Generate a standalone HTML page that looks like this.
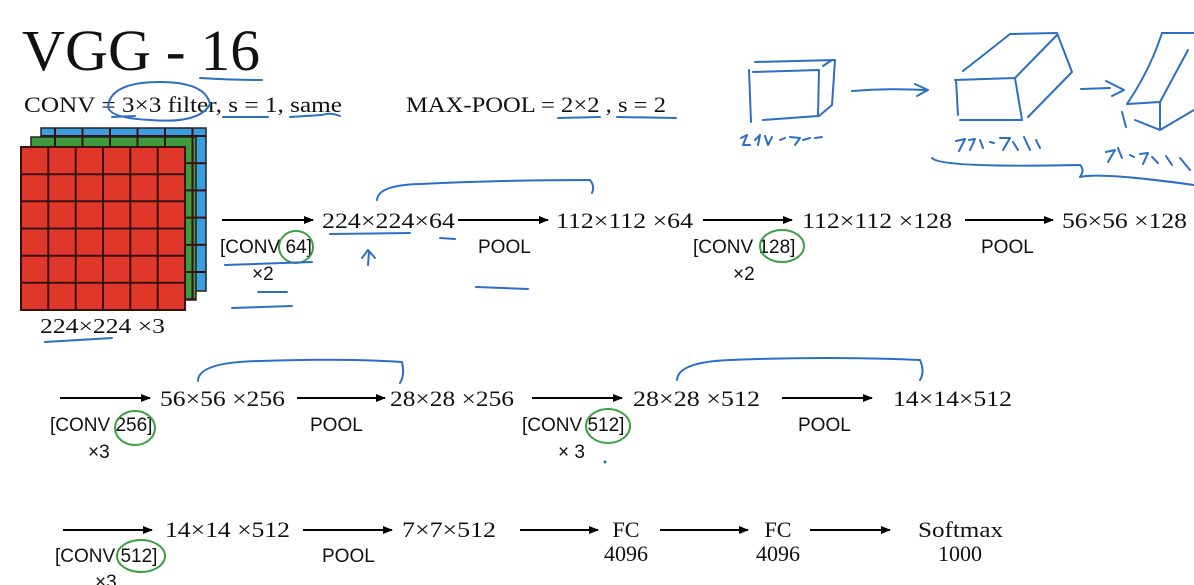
<!DOCTYPE html>
<html><head><meta charset="utf-8"><style>
html,body{margin:0;padding:0;background:#fff;}
svg{display:block}
.s{font-family:"Liberation Serif",serif;fill:#111}
.a{font-family:"Liberation Sans",sans-serif;fill:#111;font-size:19px}
.b{fill:none;stroke:#2a6fc4;stroke-width:2;stroke-linecap:round;stroke-linejoin:round}
.g{fill:none;stroke:#3aa040;stroke-width:2}
</style></head><body>
<svg width="1194" height="585" viewBox="0 0 1194 585">
<defs><marker id="ar" markerWidth="10" markerHeight="8" refX="9" refY="4" orient="auto" markerUnits="userSpaceOnUse"><path d="M0,0 L10,4 L0,8z" fill="#000"/></marker>
<pattern id="gr" width="27.5" height="27.2" patternUnits="userSpaceOnUse"><rect width="27.5" height="27.2" fill="none" stroke="#3a1010" stroke-width="2"/></pattern></defs>
<text class="s" x="22" y="70" font-size="58" textLength="238" lengthAdjust="spacingAndGlyphs">VGG - 16</text>
<text class="s" x="24" y="112" font-size="22" textLength="318" lengthAdjust="spacingAndGlyphs">CONV = 3×3 filter, s = 1, same</text>
<text class="s" x="406" y="112" font-size="22" textLength="260" lengthAdjust="spacingAndGlyphs">MAX-POOL = 2×2 , s = 2</text>
<rect x="41" y="128" width="165" height="163" fill="#3a9ee0" stroke="#222" stroke-width="1.5"/>
<rect x="41" y="128" width="165" height="163" fill="url(#gr)"/>
<rect x="31" y="137" width="165" height="163" fill="#3f9a3c" stroke="#222" stroke-width="1.5"/>
<rect x="31" y="137" width="165" height="163" fill="url(#gr)"/>
<rect x="21" y="147" width="164" height="163" fill="#e0372b" stroke="#3a1010" stroke-width="2"/>
<g stroke="#3a1010" stroke-width="2">
<line x1="48.3" y1="147" x2="48.3" y2="310"/><line x1="75.7" y1="147" x2="75.7" y2="310"/><line x1="103" y1="147" x2="103" y2="310"/><line x1="130.3" y1="147" x2="130.3" y2="310"/><line x1="157.7" y1="147" x2="157.7" y2="310"/>
<line x1="21" y1="174.2" x2="185" y2="174.2"/><line x1="21" y1="201.3" x2="185" y2="201.3"/><line x1="21" y1="228.5" x2="185" y2="228.5"/><line x1="21" y1="255.7" x2="185" y2="255.7"/><line x1="21" y1="282.8" x2="185" y2="282.8"/>
</g>
<text class="s" x="40" y="333" font-size="21" textLength="125" lengthAdjust="spacingAndGlyphs">224×224 ×3</text>
<g stroke="#000" stroke-width="2" marker-end="url(#ar)">
<line x1="222" y1="220" x2="313" y2="220"/><line x1="458" y1="220" x2="548" y2="220"/><line x1="703" y1="220" x2="792" y2="220"/><line x1="965" y1="220" x2="1053" y2="220"/>
<line x1="60" y1="398" x2="150" y2="398"/><line x1="297" y1="398" x2="385" y2="398"/><line x1="532" y1="398" x2="622" y2="398"/><line x1="782" y1="398" x2="872" y2="398"/>
<line x1="63" y1="530" x2="152" y2="530"/><line x1="303" y1="530" x2="392" y2="530"/><line x1="520" y1="530" x2="598" y2="530"/><line x1="660" y1="530" x2="748" y2="530"/><line x1="810" y1="530" x2="890" y2="530"/>
</g>
<g class="s" font-size="22" lengthAdjust="spacingAndGlyphs">
<text x="322" y="228" textLength="133" lengthAdjust="spacingAndGlyphs">224×224×64</text>
<text x="556" y="228" textLength="137" lengthAdjust="spacingAndGlyphs">112×112 ×64</text>
<text x="802" y="228" textLength="150" lengthAdjust="spacingAndGlyphs">112×112 ×128</text>
<text x="1062" y="228" textLength="125" lengthAdjust="spacingAndGlyphs">56×56 ×128</text>
<text x="160" y="406" textLength="125" lengthAdjust="spacingAndGlyphs">56×56 ×256</text>
<text x="390" y="406" textLength="124" lengthAdjust="spacingAndGlyphs">28×28 ×256</text>
<text x="633" y="406" textLength="127" lengthAdjust="spacingAndGlyphs">28×28 ×512</text>
<text x="893" y="406" textLength="119" lengthAdjust="spacingAndGlyphs">14×14×512</text>
<text x="165" y="537" textLength="125" lengthAdjust="spacingAndGlyphs">14×14 ×512</text>
<text x="402" y="537" textLength="94" lengthAdjust="spacingAndGlyphs">7×7×512</text>
<text x="626" y="537" text-anchor="middle">FC</text><text x="626" y="561" text-anchor="middle">4096</text>
<text x="778" y="537" text-anchor="middle">FC</text><text x="778" y="561" text-anchor="middle">4096</text>
<text x="918" y="537" textLength="85" lengthAdjust="spacingAndGlyphs">Softmax</text><text x="960" y="561" text-anchor="middle">1000</text>
</g>
<g class="a">
<text x="220" y="253">[CONV 64]</text><text x="252" y="280">×2</text>
<text x="478" y="253">POOL</text>
<text x="693" y="253">[CONV 128]</text><text x="733" y="280">×2</text>
<text x="981" y="253">POOL</text>
<text x="50" y="431">[CONV 256]</text><text x="88" y="458">×3</text>
<text x="310" y="431">POOL</text>
<text x="522" y="431">[CONV 512]</text><text x="558" y="458">× 3</text>
<text x="798" y="431">POOL</text>
<text x="55" y="562">[CONV 512]</text><text x="95" y="588">×3</text>
<text x="322" y="562">POOL</text>
</g>
<ellipse class="g" cx="296" cy="247" rx="17" ry="16"/>
<ellipse class="g" cx="782" cy="246" rx="22" ry="16"/>
<ellipse class="g" cx="135" cy="428" rx="20" ry="17"/>
<ellipse class="g" cx="608" cy="426" rx="22" ry="17"/>
<ellipse class="g" cx="141" cy="556" rx="24" ry="16"/>
<path class="b" d="M200 78 Q230 80 262 80"/>
<path class="b" d="M108 107 Q110 82 160 82 Q205 82 210 104 Q200 124 150 120 Q110 118 108 107"/>
<path class="b" d="M112 117 L135 116 M223 117 L268 117 M290 117 L322 115 Q330 112 340 116 M558 118 L600 117 M617 117 L676 118"/>
<path class="b" d="M330 234 L410 233 M440 238 L455 239 M377 200 Q378 185 420 184 Q500 180 590 180 Q595 186 592 193 M368 265 L369 252 M362 258 L368 250 L375 258"/>
<path class="b" d="M225 265 L312 262 M258 292 L287 292 M232 308 L292 306 M476 287 L528 289 M45 342 L112 338"/>
<path class="b" d="M198 381 Q198 362 260 361 Q340 358 402 362 Q405 375 400 383"/>
<path class="b" d="M677 380 Q678 362 730 360 Q830 356 920 360 Q925 372 920 380"/>
<path class="b" d="M753 72 L819 70 L818 116 L763 120 M749 70 L751 122 M755 62 L835 60 L832 105 L819 116 M823 66 L832 60"/>
<path class="b" d="M852 91 Q890 88 925 90 M915 84 L928 90 L917 96"/>
<path class="b" d="M955 80 L1015 78 L1022 120 L960 120 M956 80 L958 115 M963 71 Q990 50 1010 34 L1057 33 L1072 72 L1028 117 M1015 78 L1057 35"/>
<path class="b" d="M1081 89 L1110 88 M1106 81 L1124 90 L1112 96"/>
<path class="b" d="M1127 104 L1160 102 L1160 130 L1135 120 M1122 112 L1126 127 M1127 104 Q1150 70 1162 33 L1194 33 M1160 102 L1188 50 M1160 130 L1194 110"/>
<path class="b" d="M932 158 Q940 168 1080 165 Q1085 170 1080 177 Q1100 172 1194 185"/>
<path class="b" d="M741 138 L747 135 L743 145 L750 145 M755 140 L760 135 L758 145 M765 136 L768 145 L772 137 M780 140 L785 138 M790 137 L800 138 L795 145 M803 140 L810 138 M815 138 L822 137"/>
<path class="b" d="M956 141 L965 139 L959 151 M969 140 L975 139 L970 150 M980 140 L983 148 M990 142 L994 143 M1000 138 L1010 138 L1003 150 M1013 142 L1018 150 M1024 137 L1030 150 M1036 140 L1040 148"/>
<path class="b" d="M1106 152 L1115 150 L1108 162 M1118 148 L1122 158 M1130 155 L1134 157 M1140 154 L1148 153 L1143 164 M1152 157 L1158 163 M1166 156 L1172 165 M1180 158 L1190 170"/>
<circle cx="605" cy="462" r="1.5" fill="#2a6fc4"/>
</svg>
</body></html>
